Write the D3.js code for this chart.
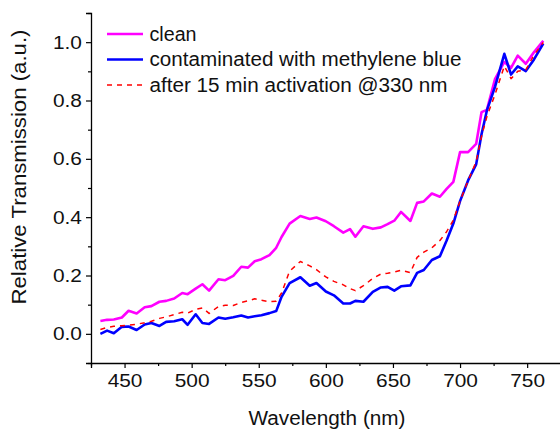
<!DOCTYPE html>
<html>
<head>
<meta charset="utf-8">
<script src="https://cdn.jsdelivr.net/npm/d3@7"></script>
<style>
  html, body { margin: 0; padding: 0; background: #fff; }
  svg { display: block; font-family: "Liberation Sans", Arial, sans-serif; }
</style>
</head>
<body>
<svg id="chart" width="560" height="430"></svg>
<script>
// Wavelength samples (nm)
const wavelengths = [432, 437, 442, 448, 453, 459, 465, 470, 476, 481,
  487, 493, 497, 503, 508, 513, 520, 525, 531, 537,
  542, 547, 552, 558, 563, 567, 573, 581, 588, 593,
  600, 606, 613, 618, 622, 628, 635, 641, 646, 651,
  656, 663, 668, 673, 679, 685, 690, 695, 700, 706,
  712, 716, 720, 726, 733, 738, 743, 749, 755, 762];

// Relative transmission of the clean sample
const clean = [0.044, 0.048, 0.049, 0.056, 0.079, 0.070, 0.091, 0.095, 0.110, 0.113,
  0.121, 0.140, 0.136, 0.155, 0.170, 0.148, 0.187, 0.184, 0.199, 0.230,
  0.227, 0.249, 0.256, 0.270, 0.295, 0.332, 0.378, 0.404, 0.394, 0.399,
  0.386, 0.369, 0.347, 0.359, 0.333, 0.369, 0.360, 0.365, 0.376, 0.388,
  0.418, 0.387, 0.449, 0.454, 0.481, 0.470, 0.497, 0.521, 0.623, 0.623,
  0.651, 0.760, 0.768, 0.873, 0.932, 0.912, 0.954, 0.926, 0.965, 1.005];

// Sample contaminated with methylene blue
const contaminated = [0.000, 0.011, 0.002, 0.024, 0.025, 0.013, 0.032, 0.037, 0.027, 0.041,
  0.043, 0.050, 0.031, 0.067, 0.037, 0.034, 0.056, 0.052, 0.057, 0.063,
  0.056, 0.060, 0.064, 0.071, 0.078, 0.127, 0.174, 0.194, 0.165, 0.174,
  0.145, 0.132, 0.104, 0.104, 0.113, 0.110, 0.144, 0.159, 0.161, 0.148,
  0.163, 0.166, 0.209, 0.219, 0.253, 0.266, 0.320, 0.378, 0.455, 0.526,
  0.581, 0.684, 0.766, 0.846, 0.960, 0.889, 0.917, 0.901, 0.940, 0.995];

// After 15 min activation at 330 nm
const activated = [0.015, 0.022, 0.026, 0.028, 0.030, 0.033, 0.038, 0.043, 0.053, 0.058,
  0.066, 0.074, 0.071, 0.084, 0.089, 0.070, 0.094, 0.098, 0.097, 0.108,
  0.113, 0.120, 0.115, 0.110, 0.112, 0.140, 0.215, 0.248, 0.233, 0.220,
  0.195, 0.180, 0.168, 0.155, 0.148, 0.165, 0.190, 0.205, 0.208, 0.212,
  0.218, 0.210, 0.262, 0.280, 0.295, 0.320, 0.350, 0.390, 0.455, 0.525,
  0.590, 0.677, 0.745, 0.820, 0.918, 0.875, 0.900, 0.905, 0.955, 0.999];

const seriesNames = ["clean", "contaminated with methylene blue", "after 15 min activation @330 nm"];
const seriesColors = ["#ff00ff", "#0000ff", "#ff0000"];

const xTicks = [450, 500, 550, 600, 650, 700, 750];
const xMinorTicks = [425, 475, 525, 575, 625, 675, 725, 775];
const yTicks = [0.0, 0.2, 0.4, 0.6, 0.8, 1.0];
const yMinorTicks = [-0.1, 0.1, 0.3, 0.5, 0.7, 0.9, 1.1];

const svg = d3.select("#chart");
const plotLeft = 91, plotTop = 13, plotBottom = 363, plotRight = 560.7;

const x = d3.scaleLinear().domain([425, 775]).range([plotLeft, plotRight]);
const y = d3.scaleLinear().domain([-0.1, 1.1]).range([plotBottom, plotTop]);

// Axes
const xAxis = svg.append("g").attr("transform", `translate(0,${plotBottom})`);
xAxis.call(d3.axisBottom(x).tickValues(xTicks).tickSize(5).tickPadding(6).tickFormat(d3.format("d")));
xAxis.append("g").call(d3.axisBottom(x).tickValues(xMinorTicks).tickSize(3).tickFormat(""))
  .select(".domain").remove();

const yAxis = svg.append("g").attr("transform", `translate(${plotLeft},0)`);
yAxis.call(d3.axisLeft(y).tickValues(yTicks).tickSize(5).tickPadding(3).tickFormat(d3.format(".1f")));
yAxis.append("g").call(d3.axisLeft(y).tickValues(yMinorTicks).tickSize(3).tickFormat(""))
  .select(".domain").remove();

svg.selectAll(".domain").attr("stroke", "#000").attr("stroke-width", 1.3);
svg.selectAll(".tick line").attr("stroke", "#000").attr("stroke-width", 1.2);
svg.selectAll(".tick text")
  .attr("font-size", 18.5).attr("fill", "#111")
  .attr("font-family", "Liberation Sans, Arial, sans-serif")
  .attr("transform", "scale(1.13,1)");

// Axis titles
svg.append("text")
  .attr("x", 327).attr("y", 425)
  .attr("text-anchor", "middle")
  .attr("font-size", 20).attr("fill", "#111")
  .attr("textLength", 157).attr("lengthAdjust", "spacingAndGlyphs")
  .text("Wavelength (nm)");

svg.append("text")
  .attr("transform", "translate(26,167) rotate(-90)")
  .attr("text-anchor", "middle")
  .attr("font-size", 20).attr("fill", "#111")
  .attr("textLength", 275).attr("lengthAdjust", "spacingAndGlyphs")
  .text("Relative Transmission (a.u.)");

// Curves
const series = [clean, contaminated, activated];
const line = d3.line()
  .x((d, i) => x(wavelengths[i]))
  .y(d => y(d));

series.forEach((vals, k) => {
  svg.append("path")
    .datum(vals)
    .attr("d", line)
    .attr("fill", "none")
    .attr("stroke", seriesColors[k])
    .attr("stroke-width", k === 2 ? 1.5 : 2.6)
    .attr("stroke-dasharray", k === 2 ? "5,5" : null)
    .attr("stroke-linejoin", "round");
});

// Legend
const legendY = [34, 59.5, 85];
const legendTextWidth = [47, 312, 298];
seriesNames.forEach((name, k) => {
  svg.append("line")
    .attr("x1", 107).attr("x2", 143)
    .attr("y1", legendY[k]).attr("y2", legendY[k])
    .attr("stroke", seriesColors[k])
    .attr("stroke-width", k === 2 ? 1.5 : 2.6)
    .attr("stroke-dasharray", k === 2 ? "5,5" : null);
  svg.append("text")
    .attr("x", 149.5).attr("y", legendY[k] + 6.5)
    .attr("font-size", 20).attr("fill", "#111")
    .attr("textLength", legendTextWidth[k]).attr("lengthAdjust", "spacingAndGlyphs")
    .text(name);
});
</script>
</body>
</html>
